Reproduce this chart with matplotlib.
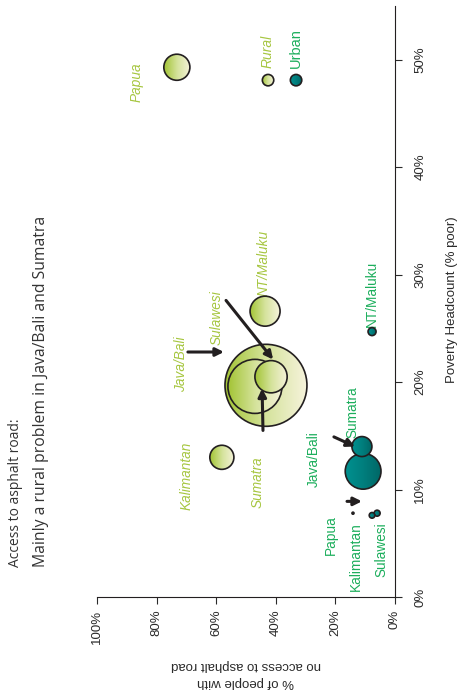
import numpy as np
import matplotlib.pyplot as plt
from matplotlib.patches import Ellipse
from matplotlib.colors import LinearSegmentedColormap

# chart is drawn turned 90 degrees, like the original page
rural_regions = ['Papua', 'NT/Maluku', 'Java/Bali', 'Sumatra', 'Sulawesi', 'Kalimantan']
rural_poverty = [49.3, 26.6, 19.7, 19.6, 20.5, 13.0]
rural_no_access = [73.2, 43.6, 43.3, 47.0, 41.6, 58.1]
rural_size = [1.7, 2.25, 16.8, 7.3, 2.6, 1.45]

urban_regions = ['NT/Maluku', 'Java/Bali', 'Sumatra', 'Sulawesi', 'Papua', 'Kalimantan']
urban_poverty = [24.7, 11.7, 14.0, 7.8, 7.6, 7.8]
urban_no_access = [7.7, 10.7, 11.1, 6.0, 7.7, 14.1]
urban_size = [0.16, 3.2, 1.0, 0.09, 0.08, 0.01]

x_ticks = [0, 20, 40, 60, 80, 100]
y_ticks = [0, 10, 20, 30, 40, 50]

RURAL_TXT = '#a6c640'
URBAN_TXT = '#1cae5c'
EDGE = '#231f20'
rural_cmap = LinearSegmentedColormap.from_list('rural', ['#a3c435', '#d5e39c', '#f6f3dc'])
urban_cmap = LinearSegmentedColormap.from_list('urban', ['#009190', '#007f7e', '#006766'])

plt.rcParams['font.family'] = ['Liberation Sans', 'DejaVu Sans']

W, H = 4.59, 6.96
fig = plt.figure(figsize=(W, H), dpi=100)
ax_pos = [97 / 459, 99 / 696, 298 / 459, 591 / 696]
ax = fig.add_axes(ax_pos)
XMAX, YMAX = 100, 55
ppx = ax_pos[2] * W * 100 / XMAX
ppy = ax_pos[3] * H * 100 / YMAX
grad = np.linspace(0, 1, 256).reshape(1, -1)


def bubble(x, y, r, cmap, z):
    w, h = 2 * r / ppx, 2 * r / ppy
    e = Ellipse((x, y), w, h, facecolor='none', edgecolor=EDGE, lw=1.2, zorder=z + 0.1)
    ax.add_patch(e)
    im = ax.imshow(grad, cmap=cmap, extent=(x + w / 2, x - w / 2, y - h / 2, y + h / 2),
                   aspect='auto', interpolation='bilinear', zorder=z)
    im.set_clip_path(e)


order = np.argsort(rural_size)[::-1]
for k, i in enumerate(order):
    bubble(rural_no_access[i], rural_poverty[i], 10 * np.sqrt(rural_size[i]), rural_cmap, 2 + k)
order = np.argsort(urban_size)[::-1]
for k, i in enumerate(order):
    bubble(urban_no_access[i], urban_poverty[i], 10 * np.sqrt(urban_size[i]), urban_cmap, 10 + k)

# legend
bubble(42.6, 48.1, 5.7, rural_cmap, 20)
bubble(33.2, 48.1, 5.7, urban_cmap, 20)
ax.text(42.6, 49.2, 'Rural', rotation=90, ha='center', va='bottom', color=RURAL_TXT,
        fontsize=10, style='italic')
ax.text(33.2, 49.2, 'Urban', rotation=90, ha='center', va='bottom', color=URBAN_TXT,
        fontsize=10.5)

# region labels
rural_lbl = {'Papua': (86.6, 47.9), 'NT/Maluku': (44.0, 31.1), 'Sulawesi': (59.7, 26.0),
             'Java/Bali': (71.8, 21.7), 'Kalimantan': (69.8, 11.3), 'Sumatra': (46.0, 10.7)}
for name, (x, y) in rural_lbl.items():
    ax.text(x, y, name, rotation=90, ha='center', va='center', color=RURAL_TXT,
            fontsize=9.8, style='italic')
urban_lbl = {'Sumatra': (14.4, 17.2), 'Java/Bali': (27.2, 12.8), 'Papua': (21.5, 5.8),
             'Kalimantan': (13.1, 3.8), 'Sulawesi': (4.4, 4.4)}
for name, (x, y) in urban_lbl.items():
    ax.text(x, y, name, rotation=90, ha='center', va='center', color=URBAN_TXT, fontsize=9.8)
ax.text(7.7, 25.1, 'NT/Maluku', rotation=90, ha='center', va='bottom', color=URBAN_TXT,
        fontsize=9.8)

arrows = [((69.5, 22.8), (57.4, 22.8)), ((56.7, 27.6), (40.9, 22.1)),
          ((44.3, 15.5), (44.6, 19.4)), ((20.5, 14.9), (13.4, 14.0)),
          ((16.1, 8.9), (11.1, 8.9))]
for tail, tip in arrows:
    ax.annotate('', xy=tip, xytext=tail,
                arrowprops=dict(arrowstyle='-|>', lw=2.2, color=EDGE, mutation_scale=12,
                                shrinkA=0, shrinkB=0), zorder=30)

ax.set_xlim(XMAX, 0)
ax.set_ylim(0, YMAX)
ax.spines['left'].set_visible(False)
ax.spines['top'].set_visible(False)
ax.spines['right'].set_color(EDGE)
ax.spines['bottom'].set_color(EDGE)
ax.yaxis.tick_right()
ax.set_xticks(x_ticks)
ax.set_xticklabels([f'{v}%' for v in x_ticks])
ax.set_yticks(y_ticks)
ax.set_yticklabels([f'{v}%' for v in y_ticks])
ax.tick_params(axis='x', direction='out', length=5, pad=4, labelrotation=90,
               labelsize=9.5, colors='#2a2a2a')
ax.tick_params(axis='y', direction='out', length=5, pad=9, labelrotation=90,
               labelsize=9.5, colors='#2a2a2a')
for t in ax.get_yticklabels():
    t.set_va('center')

fig.text(452 / 459, 1 - 300 / 696, 'Poverty Headcount (% poor)', rotation=90,
         ha='center', va='center', fontsize=9.5, color='#2a2a2a')
fig.text(246 / 459, 1 - 673.5 / 696, '% of people with\nno access to asphalt road',
         rotation=180, ha='center', va='center', fontsize=9.5, color='#2a2a2a',
         linespacing=1.5)

fig.text(16 / 459, 1 - 567 / 696, 'Access to asphalt road:', rotation=90, ha='center',
         va='bottom', fontsize=10, color='#333333', family=['Open Sans', 'DejaVu Sans'])
fig.text(41 / 459, 1 - 567 / 696, 'Mainly a rural problem in Java/Bali and Sumatra',
         rotation=90, ha='center', va='bottom', fontsize=11.3, color='#333333',
         family=['Open Sans', 'DejaVu Sans'])

fig.savefig('out.png', dpi=100)
